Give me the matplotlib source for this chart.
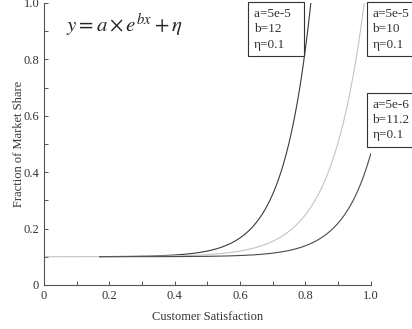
import numpy as np
import matplotlib
matplotlib.use("Agg")
from matplotlib import pyplot as plt
from matplotlib.ticker import MultipleLocator, FuncFormatter

plt.rcParams['font.family'] = ['Liberation Serif', 'DejaVu Serif']
plt.rcParams['mathtext.fontset'] = 'stix'

# model parameters shown in the boxes: y = a*exp(b*x) + eta
a_vals = [5e-5, 5e-5, 5e-6]
b_vals = [12, 10, 11.2]
eta_vals = [0.1, 0.1, 0.1]
x_start = [0.17, 0.0, 0.17]
colors = ['#3a3a3a', '#c4c4c4', '#4a4a4a']
labels = ['a=5e-5  \nb=12\nη=0.1', 'a=5e-5\nb=10\nη=0.1', 'a=5e-6\nb=11.2\nη=0.1']
label_pos = [(0.617, 0.975), (0.904, 0.975), (0.904, 0.70)]

fig = plt.figure(figsize=(4.12, 3.29), dpi=100)
ax = fig.add_axes([0.107, 0.134, 0.793, 0.857])

for a, b, eta, x0, c in zip(a_vals, b_vals, eta_vals, x_start, colors):
    x = np.linspace(x0, 1.0, 300)
    ax.plot(x, a * np.exp(b * x) + eta, color=c, lw=0.8)

ax.set_xlim(0, 1.0)
ax.set_ylim(0, 1.0)
for s in ['top', 'right']:
    ax.spines[s].set_visible(False)
for s in ['left', 'bottom']:
    ax.spines[s].set_color('#555555')
    ax.spines[s].set_linewidth(0.8)

fmt = FuncFormatter(lambda v, p: '0' if abs(v) < 1e-9 else '%.1f' % v)
ax.xaxis.set_major_locator(MultipleLocator(0.2))
ax.yaxis.set_major_locator(MultipleLocator(0.2))
ax.xaxis.set_minor_locator(MultipleLocator(0.1))
ax.yaxis.set_minor_locator(MultipleLocator(0.1))
ax.xaxis.set_major_formatter(fmt)
ax.yaxis.set_major_formatter(fmt)
ax.tick_params(which='both', direction='in', length=3, width=0.7,
               color='#555555', labelsize=9, labelcolor='#333333')

ax.set_xlabel('Customer Satisfaction', fontsize=9, color='#333333', labelpad=7)
ax.set_ylabel('Fraction of Market Share', fontsize=9, color='#333333', labelpad=-1)

fig.text(0.16, 0.925, r'$y = a \times e^{bx} + \eta$', fontsize=15,
         color='#222222', va='center', ha='left')

for txt, (fx, fy) in zip(labels, label_pos):
    fig.text(fx, fy, txt, fontsize=9.5, va='top', ha='left', color='#333333',
             linespacing=1.35,
             bbox=dict(boxstyle='square,pad=0.45', fc='white', ec='#333333', lw=0.8))

fig.savefig('out.png', dpi=100)
